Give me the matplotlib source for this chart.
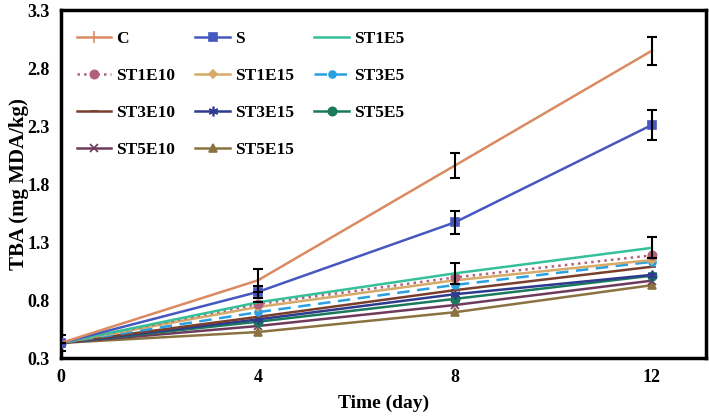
import matplotlib
matplotlib.use("Agg")
import matplotlib.pyplot as plt

days = [0, 4, 8, 12]
series_names = ["C", "S", "ST1E5", "ST1E10", "ST1E15", "ST3E5",
                "ST3E10", "ST3E15", "ST5E5", "ST5E10", "ST5E15"]
C = [0.43, 0.97, 1.96, 2.95]
S = [0.43, 0.87, 1.47, 2.31]
ST1E5 = [0.43, 0.78, 1.03, 1.25]
ST1E10 = [0.43, 0.765, 0.995, 1.185]
ST1E15 = [0.43, 0.74, 0.97, 1.145]
ST3E5 = [0.43, 0.695, 0.93, 1.13]
ST3E10 = [0.43, 0.655, 0.885, 1.087]
ST3E15 = [0.43, 0.633, 0.85, 1.017]
ST5E5 = [0.43, 0.613, 0.81, 1.01]
ST5E10 = [0.43, 0.576, 0.757, 0.967]
ST5E15 = [0.43, 0.524, 0.695, 0.928]
C_err = [0.07, 0.10, 0.11, 0.12]
S_err = [0.0, 0.05, 0.10, 0.13]
ST1E5_err = [0.0, 0.0, 0.09, 0.09]

values = [C, S, ST1E5, ST1E10, ST1E15, ST3E5, ST3E10, ST3E15, ST5E5, ST5E10, ST5E15]
errors = {"C": C_err, "S": S_err, "ST1E5": ST1E5_err}

styles = {
    "C": dict(color="#DB8A62", ls="-", marker="|", ms=8),
    "S": dict(color="#4658C0", ls="-", marker="s", ms=6),
    "ST1E5": dict(color="#35C09A", ls="-", marker="None", ms=5),
    "ST1E10": dict(color="#B2607C", ls=":", marker="o", ms=6),
    "ST1E15": dict(color="#D6AA68", ls="-", marker="D", ms=4),
    "ST3E5": dict(color="#2AA0E2", ls=(0, (5, 3)), marker="o", ms=5),
    "ST3E10": dict(color="#7A3F2C", ls="-", marker="_", ms=6),
    "ST3E15": dict(color="#2E3A8E", ls="-", marker=(6, 2, 0), ms=7),
    "ST5E5": dict(color="#1A7A5C", ls="-", marker="o", ms=6),
    "ST5E10": dict(color="#6E3A5C", ls="-", marker="x", ms=6),
    "ST5E15": dict(color="#8A7340", ls="-", marker="^", ms=6),
}

plt.rcParams['font.family'] = ['Liberation Serif', 'DejaVu Serif']
fig = plt.figure(figsize=(7.09, 4.18), dpi=100)
ax = fig.add_axes([0.086, 0.1435, 0.91, 0.8325])

order = list(range(len(series_names)))[::-1]
handles = {}
for i in order:
    name = series_names[i]
    st = styles[name]
    h, = ax.plot(days, values[i], color=st["color"], linestyle=st["ls"], lw=1.8,
                 marker=st["marker"], markersize=st["ms"], markeredgewidth=1.2,
                 label=name, zorder=3)
    handles[name] = h
for name, err in errors.items():
    i = series_names.index(name)
    ax.errorbar(days, values[i], yerr=err, fmt="none", ecolor="black",
                elinewidth=1.5, capsize=3.5, capthick=1.5, zorder=4)

ax.set_xlim(0, 13.1)
ax.set_ylim(0.3, 3.3)
ax.set_xticks(days)
ax.set_yticks([0.3, 0.8, 1.3, 1.8, 2.3, 2.8, 3.3])
ax.set_yticklabels(["0.3", "0.8", "1.3", "1.8", "2.3", "2.8", "3.3"])
ax.tick_params(length=0, labelsize=13, pad=8)
for lab in ax.get_xticklabels() + ax.get_yticklabels():
    lab.set_fontweight("bold")
for sp in ax.spines.values():
    sp.set_linewidth(2.5)
    sp.set_color("black")

ax.set_xlabel("Time (day)", fontsize=14, fontweight="bold", labelpad=6)
ax.set_ylabel("TBA (mg MDA/kg)", fontsize=15, fontweight="bold", labelpad=-1)

# legend filled row by row (3 columns) -> reorder for matplotlib's column filling
ncol = 3
nrow = -(-len(series_names) // ncol)
leg_order = []
for c in range(ncol):
    for r in range(nrow):
        k = r * ncol + c
        if k < len(series_names):
            leg_order.append(series_names[k])
leg = ax.legend([handles[n] for n in leg_order], leg_order, ncol=ncol,
                loc="upper left", bbox_to_anchor=(0.0, 0.985), frameon=False,
                prop=dict(weight="bold", size=12.5), handlelength=2.0,
                handletextpad=0.3, columnspacing=1.15, labelspacing=1.2)

fig.savefig("out.png", dpi=100)
